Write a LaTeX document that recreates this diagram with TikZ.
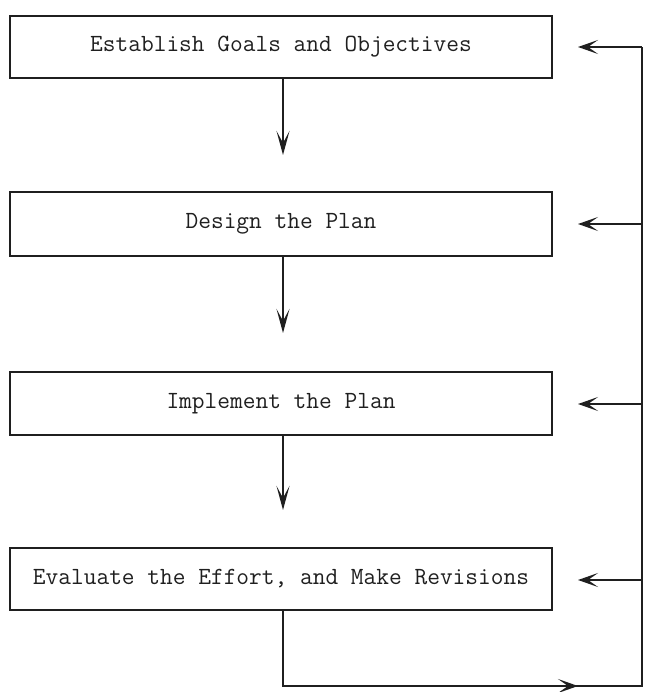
\documentclass[tikz,border=0pt]{standalone}
\usetikzlibrary{arrows.meta}
\definecolor{ink}{gray}{0.12}
\begin{document}
\begin{tikzpicture}[x=1pt,y=-1pt,
  stepbox/.style={draw=ink, line width=2pt, minimum width=542pt,
    minimum height=62pt, inner sep=0pt, text=ink,
    font=\fontsize{24.7}{28}\selectfont\ttfamily},
  link/.style={draw=ink, line width=2pt},
  flow/.style={link, -{Stealth[length=24pt,width=13pt,inset=12pt]}},
  back/.style={link, -{Stealth[length=20pt,width=14pt,inset=10pt]}}]
\useasboundingbox (0,0) rectangle (644,692);

% the four stages of the cycle
\node[stepbox] (s1) at (281,47)    {Establish Goals and Objectives};
\node[stepbox, minimum height=64pt] (s2) at (281,224) {Design the Plan};
\node[stepbox, minimum height=63pt] (s3) at (281,403.5) {Implement the Plan};
\node[stepbox] (s4) at (281,579)   {Evaluate the Effort, and Make Revisions};

% downward arrows between stages
\coordinate (d1) at (283,155);
\coordinate (d2) at (283,333);
\coordinate (d3) at (283,510);
\draw[flow] (s1.south -| d1) -- (d1);
\draw[flow] (s2.south -| d2) -- (d2);
\draw[flow] (s3.south -| d3) -- (d3);

% feedback bus on the right
\coordinate (bus1) at (642,47);
\coordinate (bus2) at (642,224);
\coordinate (bus3) at (642,404);
\coordinate (bus4) at (642,580);
\coordinate (busb) at (642,686);
\coordinate (bl) at (283,686);
\coordinate (bm) at (578,686);

\draw[link] (s4.south -| bl) -- (bl) -- (busb) -- (bus1);
\draw[back] (bl) -- (bm);

\foreach \i in {1,2,3,4}
  \draw[back] (bus\i) -- ++(-64,0);
\end{tikzpicture}
\end{document}
